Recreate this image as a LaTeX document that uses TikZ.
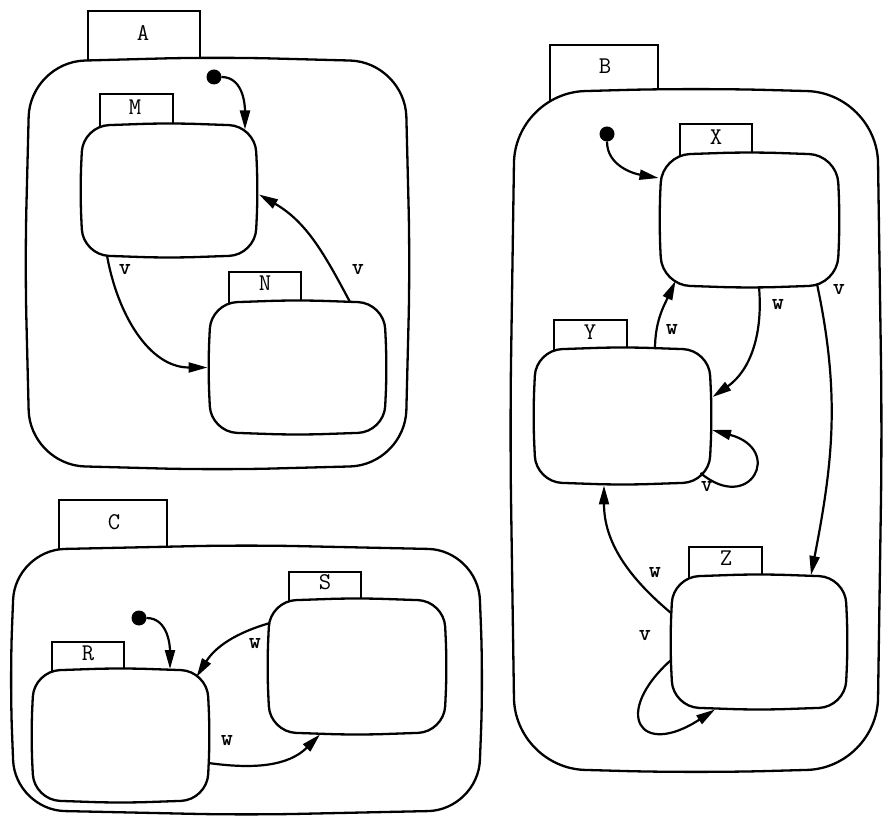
\documentclass[tikz,border=0pt]{standalone}
\usepackage{fontspec}
\usetikzlibrary{arrows.meta,calc}
\newcommand\blobshape[3]{%
  \filldraw[fill=white, line width=2.3pt, rounded corners=#2]
    ($(#1.west)+(-#3,0)$) -- (#1.north west) -- ($(#1.north)+(0,#3)$) -- (#1.north east)
    -- ($(#1.east)+(#3,0)$) -- (#1.south east) -- ($(#1.south)+(0,-#3)$) -- (#1.south west) -- cycle;}
\begin{document}
\begin{tikzpicture}[x=1pt,y=1pt,
  every node/.style={inner sep=0pt, outer sep=0pt},
  holder/.style={rectangle, draw=none, minimum width=#1},
  tabbox/.style={draw, fill=white, line width=2pt, rectangle, anchor=north},
  tabtxt/.style={font=\fontsize{24}{26}\selectfont\ttfamily},
  trlbl/.style={font=\fontsize{23}{25}\selectfont\ttfamily\bfseries},
  initdot/.style={circle, fill=black, minimum size=15pt},
  tr/.style={line width=2.2pt, -{Triangle[length=19pt,width=10pt]}},
]
\useasboundingbox (0,0) rectangle (883,817);

% ---- container holders
\node[holder=375pt, minimum height=403pt] (A) at (217.5,553.5) {};
\node[holder=362pt, minimum height=675pt] (B) at (696,386.5) {};
\node[holder=463pt, minimum height=260pt] (C) at (246.5,137) {};

% ---- container tabs
\node[tabbox, minimum width=112pt, minimum height=65pt] (tA) at (144,806) {};
\node[tabbox, minimum width=108pt, minimum height=65pt] (tB) at (604,772) {};
\node[tabbox, minimum width=108pt, minimum height=65pt] (tC) at (113,317) {};

\blobshape{A}{55pt}{5}
\blobshape{B}{70pt}{5}
\blobshape{C}{50pt}{5}

% ---- state holders
\node[holder=172pt, minimum height=129pt] (M) at (169,626.5) {};
\node[holder=173pt, minimum height=129pt] (N) at (297.5,449.5) {};
\node[holder=175pt, minimum height=130pt] (X) at (749.5,597) {};
\node[holder=173pt, minimum height=132pt] (Y) at (622.5,401) {};
\node[holder=172pt, minimum height=130pt] (Z) at (759,175) {};
\node[holder=173pt, minimum height=129pt] (R) at (120.5,81.5) {};
\node[holder=174pt, minimum height=131pt] (S) at (357,150.5) {};

% ---- state tabs
\node[tabbox, minimum width=73pt, minimum height=40pt] (tM) at (136.5,723) {};
\node[tabbox, minimum width=72pt, minimum height=40pt] (tN) at (265,545) {};
\node[tabbox, minimum width=72pt, minimum height=40pt] (tX) at (716,693) {};
\node[tabbox, minimum width=73pt, minimum height=40pt] (tY) at (590.5,497) {};
\node[tabbox, minimum width=73pt, minimum height=40pt] (tZ) at (725.5,270) {};
\node[tabbox, minimum width=72pt, minimum height=40pt] (tR) at (88,175) {};
\node[tabbox, minimum width=72pt, minimum height=40pt] (tS) at (325,245) {};

\blobshape{M}{26pt}{3}
\blobshape{N}{26pt}{3}
\blobshape{X}{28pt}{3}
\blobshape{Y}{26pt}{3}
\blobshape{Z}{26pt}{3}
\blobshape{R}{26pt}{3}
\blobshape{S}{26pt}{3}

% ---- tab texts
\node[tabtxt] (lA) at (143,784) {A};
\node[tabtxt] (lB) at (605,751) {B};
\node[tabtxt] (lC) at (114,295) {C};
\node[tabtxt] (lM) at (135,710) {M};
\node[tabtxt] (lN) at (265,534) {N};
\node[tabtxt] (lX) at (716,680) {X};
\node[tabtxt] (lY) at (590,485) {Y};
\node[tabtxt] (lZ) at (726,259) {Z};
\node[tabtxt] (lR) at (88,164) {R};
\node[tabtxt] (lS) at (325,235) {S};

% ---- initial dots
\node[initdot] (iA) at (214,740) {};
\node[initdot] (iB) at (607,683) {};
\node[initdot] (iC) at (139,199) {};

% ---- transitions in A
\draw[tr] (iA) to[out=0,in=90] ($(M)+(76,61)$);
\draw[tr] ($(M)+(-62,-65)$) to[out=-80,in=180] ($(N)+(-90,0)$);
\draw[tr] ($(N)+(52.5,65.5)$) to[out=118,in=-30] ($(M)+(90,-4)$);
\node[trlbl] (vMN) at (125,547) {v};
\node[trlbl] (vNM) at (358,547) {v};

% ---- transitions in B
\draw[tr] (iB) to[out=-90,in=170] ($(X)+(-91,42)$);
\draw[tr] ($(Y)+(32.5,67)$) to[out=90,in=-115] ($(X)+(-74,-61)$);
\draw[tr] ($(X)+(9.5,-67)$) to[out=-85,in=35] ($(Y)+(90,19)$);
\draw[tr] ($(X)+(67.5,-64)$) to[out=-78,in=79] ($(Z)+(52,67)$);
\draw[tr] ($(Y)+(78,-57)$) .. controls +(-40:65) and +(-15:75) .. ($(Y)+(89.5,-14)$);
\draw[tr] ($(Z)+(-88,29)$) to[out=140,in=-90] ($(Y)+(-18.5,-69.5)$);
\draw[tr] ($(Z)+(-88,-18)$) .. controls +(-138:80) and +(-147:90) .. ($(Z)+(-44,-67.5)$);
\node[trlbl] (wYX) at (672,487) {w};
\node[trlbl] (wXY) at (778,512) {w};
\node[trlbl] (vXZ) at (839,527) {v};
\node[trlbl] (vYY) at (707,330) {v};
\node[trlbl] (wZY) at (655,244) {w};
\node[trlbl] (vZZ) at (645,181) {v};

% ---- transitions in C
\draw[tr] (iC) to[out=0,in=90] ($(R)+(49.5,66.5)$);
\draw[tr] ($(S)+(-87,43.5)$) to[out=196,in=58] ($(R)+(76,58.5)$);
\draw[tr] ($(R)+(88,-27.5)$) to[out=-8,in=-135] ($(S)+(-37,-68)$);
\node[trlbl] (wSR) at (255,173) {w};
\node[trlbl] (wRS) at (227,76) {w};
\end{tikzpicture}
\end{document}
